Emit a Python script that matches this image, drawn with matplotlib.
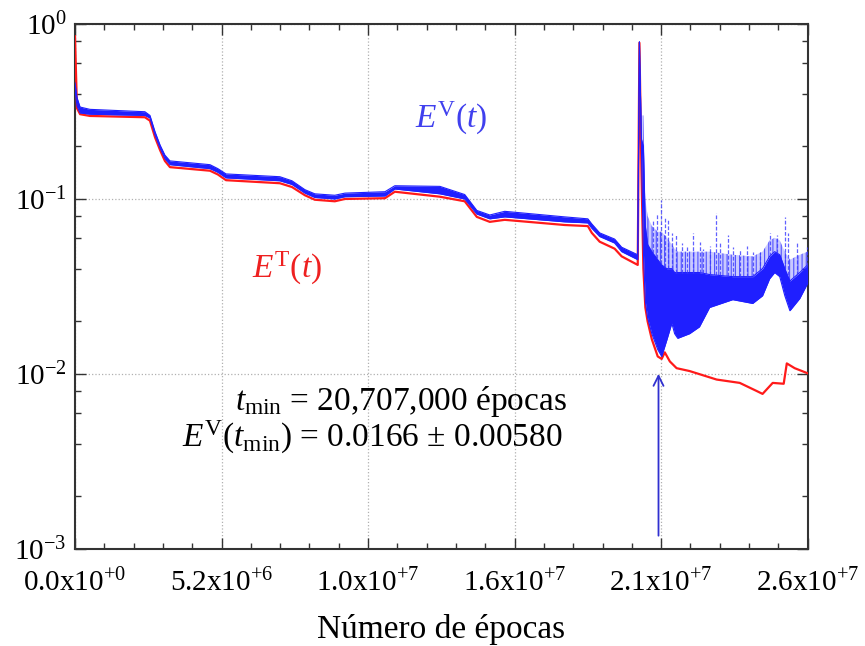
import matplotlib
matplotlib.use('Agg')
import matplotlib.pyplot as plt
from matplotlib.ticker import FixedLocator, MultipleLocator, LogLocator, NullFormatter
import numpy as np

plt.rcParams['font.family'] = ['Liberation Serif', 'DejaVu Serif']
plt.rcParams['mathtext.fontset'] = 'custom'
plt.rcParams['mathtext.rm'] = 'Liberation Serif'
plt.rcParams['mathtext.it'] = 'Liberation Serif:italic'
plt.rcParams['hatch.linewidth'] = 0.8

# --- data (epochs in millions) ---
t_pre = [0.00, 0.07, 0.18, 0.53, 2.48, 2.66, 2.84, 3.02, 3.19, 3.37, 4.79, 5.07, 5.36,
         7.27, 7.70, 8.16, 8.51, 9.22, 9.58, 11.00, 11.35, 12.95, 13.83, 14.26, 14.72,
         15.25, 17.38, 18.20, 18.34, 18.62, 19.15, 19.40, 19.97]

# training error E^T(t)
red_pre = [0.85, 0.33, 0.305, 0.298, 0.293, 0.28, 0.225, 0.19, 0.165, 0.152, 0.145, 0.138,
           0.128, 0.123, 0.117, 0.105, 0.099, 0.097, 0.100, 0.101, 0.110, 0.103, 0.097,
           0.079, 0.074, 0.076, 0.071, 0.070, 0.064, 0.057, 0.052, 0.047, 0.042]
t_red_post = [20.03, 20.10, 20.17, 20.24, 20.32, 20.47, 20.68, 20.82, 20.93, 21.11, 21.35,
              21.81, 22.77, 23.59, 24.19, 24.40, 24.76, 25.15, 25.26, 25.54, 26.00]
red_post = [0.78, 0.15, 0.04, 0.024, 0.02, 0.0158, 0.0126, 0.0122, 0.0133, 0.0118, 0.0108,
            0.0104, 0.0093, 0.0089, 0.0080, 0.0077, 0.0089, 0.0088, 0.0115, 0.0108, 0.0101]

# validation error E^V(t): lower edge, top of dense band, top of light band
t_blue_post = [20.03, 20.10, 20.17, 20.24, 20.32, 20.47, 20.68, 20.82, 21.00, 21.18, 21.28,
               21.39, 21.81, 22.16, 22.52, 23.34, 24.05, 24.40, 24.65, 24.83, 25.01, 25.19,
               25.37, 25.72, 26.00]
blue_lo_pre = [0.42, 0.34, 0.31, 0.305, 0.30, 0.29, 0.232, 0.195, 0.17, 0.157, 0.149, 0.142,
               0.132, 0.127, 0.121, 0.108, 0.102, 0.100, 0.103, 0.104, 0.114, 0.107, 0.100,
               0.082, 0.077, 0.079, 0.074, 0.073, 0.068, 0.061, 0.056, 0.050, 0.045]
blue_lo_post = [0.79, 0.20, 0.05, 0.026, 0.021, 0.017, 0.0138, 0.0126, 0.0156, 0.0195, 0.017,
                0.016, 0.017, 0.0186, 0.024, 0.0266, 0.0253, 0.028, 0.035, 0.038, 0.036,
                0.028, 0.023, 0.027, 0.033]
blue_mid_pre = [0.46, 0.38, 0.335, 0.325, 0.315, 0.30, 0.242, 0.203, 0.178, 0.165, 0.157,
                0.149, 0.139, 0.134, 0.127, 0.113, 0.107, 0.105, 0.108, 0.110, 0.119, 0.118,
                0.106, 0.086, 0.081, 0.085, 0.079, 0.077, 0.072, 0.064, 0.059, 0.053, 0.048]
blue_mid_post = [0.79, 0.22, 0.2, 0.07, 0.055, 0.05, 0.045, 0.042, 0.04, 0.04, 0.038, 0.038,
                 0.038, 0.038, 0.037, 0.036, 0.036, 0.04, 0.047, 0.05, 0.048, 0.04, 0.034,
                 0.038, 0.042]
blue_hi_post = [0.79, 0.30, 0.3, 0.1, 0.08, 0.07, 0.065, 0.065, 0.06, 0.055, 0.052, 0.05,
                0.05, 0.05, 0.05, 0.048, 0.047, 0.05, 0.058, 0.06, 0.058, 0.05, 0.045,
                0.048, 0.05]

# tallest dashed excursions of E^V after the jump
spike_t = [20.50, 20.64, 20.79, 20.93, 21.03, 21.18, 21.32, 21.53, 21.71, 21.92, 22.17,
           22.28, 22.52, 22.74, 22.88, 23.16, 23.34, 23.59, 23.84, 24.05, 24.30, 24.65,
           24.90, 25.19, 25.29, 25.61, 25.96]
spike_top = [0.076, 0.083, 0.099, 0.078, 0.076, 0.064, 0.062, 0.056, 0.053, 0.064, 0.057,
             0.052, 0.054, 0.083, 0.056, 0.062, 0.053, 0.052, 0.054, 0.050, 0.050, 0.064,
             0.062, 0.079, 0.064, 0.056, 0.053]

xtick_vals = [0.0, 5.2, 10.4, 15.6, 20.8, 26.0]
xtick_labels = [r'0.0x10$^{+0}$', r'5.2x10$^{+6}$', r'1.0x10$^{+7}$',
                r'1.6x10$^{+7}$', r'2.1x10$^{+7}$', r'2.6x10$^{+7}$']
t_min = 20707000

M = 1e6
t_red = np.array(t_pre + t_red_post) * M
red = np.array(red_pre + red_post)
t_blue = np.array(t_pre + t_blue_post) * M
blue_lo = np.array(blue_lo_pre + blue_lo_post)
blue_mid = np.array(blue_mid_pre + blue_mid_post)
blue_hi = np.array(blue_mid_pre + blue_hi_post)

fig = plt.figure(figsize=(8.65, 6.46), dpi=100)
ax = fig.add_axes([0.0867, 0.150, 0.847, 0.813])

ax.plot(t_red, red, color='#ff1a1a', lw=1.6, zorder=3)
ax.fill_between(t_blue, blue_mid, blue_hi, facecolor=(0.3, 0.3, 1.0, 0.3),
                edgecolor=(0.2, 0.2, 1.0, 0.8), hatch='||||', lw=0, zorder=4)
ax.fill_between(t_blue, blue_lo, blue_mid, color='#1f1fff', lw=0, zorder=4)
ax.plot(t_blue, blue_lo, color='#1f1fff', lw=0.8, zorder=4)
ax.plot(t_blue, blue_mid, color='#1f1fff', lw=0.8, zorder=4)
spike_base = np.interp(np.array(spike_t) * M, t_blue, blue_mid)
ax.vlines(np.array(spike_t) * M, spike_base, spike_top, color='#3a3aff',
          lw=0.9, linestyles=(0, (3, 1.5)), alpha=0.8, zorder=4)

ax.set_yscale('log')
ax.set_ylim(1e-3, 1)
ax.set_xlim(0, 26.0 * M)

ax.xaxis.set_major_locator(FixedLocator(np.array(xtick_vals) * M))
ax.set_xticklabels(xtick_labels)
ax.xaxis.set_minor_locator(MultipleLocator(1.04 * M))
ax.set_yticks([1e-3, 1e-2, 1e-1, 1])
ax.set_yticklabels([r'10$^{-3}$', r'10$^{-2}$', r'10$^{-1}$', r'10$^{0}$'])
ax.yaxis.set_minor_locator(LogLocator(base=10, subs=[2, 4, 6, 8]))
ax.yaxis.set_minor_formatter(NullFormatter())

ax.tick_params(which='both', direction='in', top=True, right=True, colors='#333333')
ax.tick_params(which='major', length=8, width=1, labelsize=21, labelcolor='black')
ax.tick_params(which='minor', length=4, width=1)
ax.tick_params(axis='x', pad=14)
ax.tick_params(axis='y', pad=6)
for s in ax.spines.values():
    s.set_linewidth(1.5)
    s.set_color('#333333')
ax.grid(True, which='major', ls=':', color='#b0b0b0', lw=0.9)

ax.set_xlabel('Número de épocas', fontsize=24, labelpad=12)

ax.text(13.37 * M, 0.29, r'$E^{\rm V}(t)$', color='#4040ee', fontsize=24,
        ha='center', va='center', zorder=6)
ax.text(7.52 * M, 0.0403, r'$E^{\rm T}(t)$', color='#ee2020', fontsize=24,
        ha='center', va='center', zorder=6)
ax.text(17.45 * M, 0.0062, r'$t_{\rm min}$ = 20,707,000 épocas', fontsize=24,
        ha='right', va='baseline', zorder=6)
ax.text(17.3 * M, 0.00385, r'$E^{\rm V}(t_{\rm min})$ = 0.0166 ± 0.00580', fontsize=24,
        ha='right', va='baseline', zorder=6)

ax.annotate('', xy=(t_min, 0.0104), xytext=(t_min, 0.00115),
            arrowprops=dict(arrowstyle='->', color='#3030d0', lw=1.3, mutation_scale=18),
            zorder=6)

plt.savefig('out.png', dpi=100)
plt.close()
